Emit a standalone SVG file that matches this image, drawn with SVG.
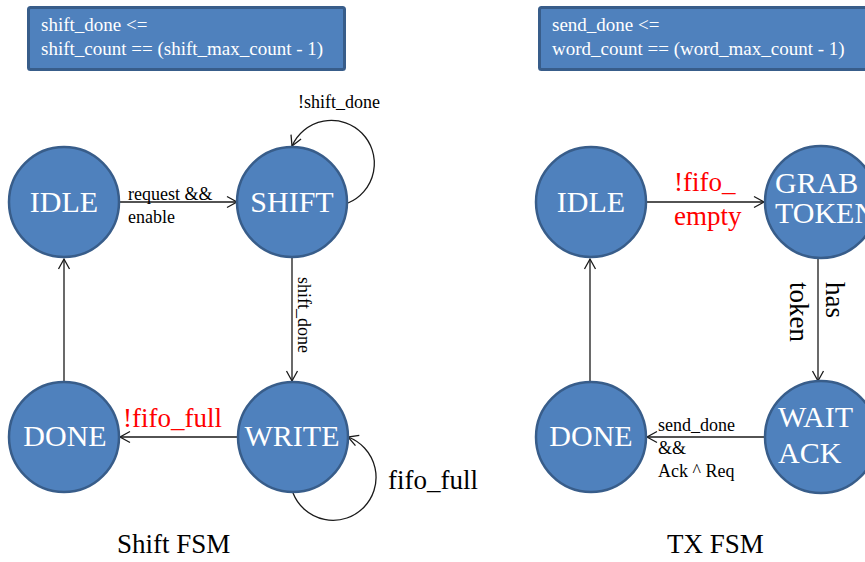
<svg xmlns="http://www.w3.org/2000/svg" width="865" height="562" viewBox="0 0 865 562">
<style>
text{font-family:'Liberation Serif','Times New Roman','DejaVu Serif','Noto Serif',serif}
.node{fill:#4F81BD;stroke:#385D8A;stroke-width:2.5}
.box{fill:#4F81BD;stroke:#385D8A;stroke-width:3}
.nt{fill:#ffffff;font-size:30px}
.bt{fill:#ffffff;font-size:19px}
.lb{fill:#000000;font-size:18px}
.big{fill:#000000;font-size:27px}
.red{fill:#FF0000;font-size:27px}
.ed{fill:none;stroke:#1a1a1a;stroke-width:1.3;marker-end:url(#arr)}
</style>
<defs>
<marker id="arr" markerUnits="userSpaceOnUse" markerWidth="14" markerHeight="14" viewBox="0 0 14 14" refX="12" refY="7" orient="auto">
<path d="M2,1.5 L12,7 L2,12.5" fill="none" stroke="#1a1a1a" stroke-width="1.3"/>
</marker>
</defs>
<rect width="865" height="562" fill="#ffffff"/>

<g id="box-shift">
<rect class="box" x="28.5" y="7.5" width="316" height="62" rx="2"/>
<text class="bt" x="41" y="31">shift_done &lt;=</text>
<text class="bt" x="41" y="55">shift_count == (shift_max_count - 1)</text>
</g>
<g id="box-tx">
<rect class="box" x="539.5" y="7.5" width="340" height="62" rx="2"/>
<text class="bt" x="552" y="31">send_done &lt;=</text>
<text class="bt" x="552" y="55">word_count == (word_max_count - 1)</text>
</g>

<g id="connectors">
<path class="ed" d="M120,202 L237,202"/>
<path class="ed" d="M348,203 A43,43 0 1 0 292,146"/>
<path class="ed" d="M292,258 L292,381"/>
<path class="ed" d="M293,493 A43,43 0 1 0 348,437"/>
<path class="ed" d="M238,437 L120,437"/>
<path class="ed" d="M64,381 L64,259"/>
<path class="ed" d="M646,202 L764,202"/>
<path class="ed" d="M818,258 L818,381"/>
<path class="ed" d="M765,437 L647,437"/>
<path class="ed" d="M590,381 L590,259"/>
<text class="lb" x="128" y="200">request &amp;&amp;</text>
<text class="lb" x="128" y="223">enable</text>
<text class="lb" x="298" y="108">!shift_done</text>
<text class="lb" transform="translate(298,277) rotate(90)">shift_done</text>
<text class="red" x="123" y="427" font-size="26">!fifo_full</text>
<text class="big" x="388" y="489">fifo_full</text>
<text class="red" x="674" y="191">!fifo_</text>
<text class="red" x="674" y="225">empty</text>
<text class="big" transform="translate(826,282) rotate(90)">has</text>
<text class="big" transform="translate(790,282) rotate(90)">token</text>
<text class="lb" x="658" y="431">send_done</text>
<text class="lb" x="658" y="454">&amp;&amp;</text>
<text class="lb" x="658" y="477">Ack ^ Req</text>
</g>

<g id="shift-idle">
<circle class="node" cx="64" cy="202" r="55"/>
<text class="nt" x="64" y="212" text-anchor="middle">IDLE</text>
</g>
<g id="shift-shift">
<circle class="node" cx="292" cy="202" r="55"/>
<text class="nt" x="292" y="212" text-anchor="middle">SHIFT</text>
</g>
<g id="shift-done">
<circle class="node" cx="64" cy="437" r="55"/>
<text class="nt" x="65" y="446" text-anchor="middle">DONE</text>
</g>
<g id="shift-write">
<circle class="node" cx="293" cy="437" r="55"/>
<text class="nt" x="292" y="446" text-anchor="middle">WRITE</text>
</g>

<g id="tx-idle">
<circle class="node" cx="591" cy="202" r="55"/>
<text class="nt" x="591" y="212" text-anchor="middle">IDLE</text>
</g>
<g id="tx-grab">
<circle class="node" cx="821" cy="202" r="56"/>
<text class="nt" x="775" y="193" font-size="25">GRAB</text>
<text class="nt" x="775" y="223" font-size="25">TOKEN</text>
</g>
<g id="tx-done">
<circle class="node" cx="591" cy="437" r="55"/>
<text class="nt" x="591" y="446" text-anchor="middle">DONE</text>
</g>
<g id="tx-wait">
<circle class="node" cx="821" cy="437" r="56"/>
<text class="nt" x="778" y="427" font-size="29">WAIT</text>
<text class="nt" x="778" y="463" font-size="29">ACK</text>
</g>

<text class="big" x="117" y="553">Shift FSM</text>
<text class="big" x="667" y="553" font-size="28">TX FSM</text>
</svg>
